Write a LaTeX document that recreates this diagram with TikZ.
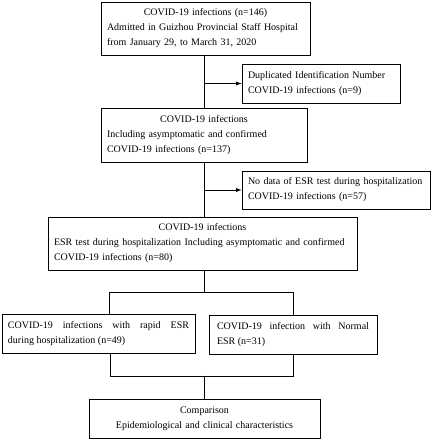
\documentclass[tikz,border=0pt]{standalone}
\usepackage{fontspec}
\setmainfont{Liberation Serif}
\usepackage{tikz}
\usetikzlibrary{arrows,positioning}

\tikzset{
    box/.style={draw, line width=.9pt, inner xsep=6pt, inner ysep=2pt, align=left,
        font=\fontsize{10}{15}\selectfont},
    link/.style={line width=.9pt},
    arr/.style={line width=.9pt, -latex}
}
\newcommand{\headline}[1]{\hspace*{\fill}#1\hspace*{\fill}\null\\}

\begin{document}
\begin{tikzpicture}[x=1pt, y=1pt]
            \useasboundingbox (0,0) rectangle (433,440);

            \node[box, text width=197pt, minimum height=53pt] (all) at (205.5,411.5)
                {\headline{COVID-19 infections (n=146)}
                 Admitted in Guizhou Provincial Staff Hospital\\
                 from January 29, to March 31, 2020};
            \node[box, text width=146pt, minimum height=39pt] (dup) at (321,356.5)
                {Duplicated Identification Number\\
                 COVID-19 infections (n=9)};
            \node[box, text width=194pt, minimum height=54pt] (incl) at (204,305)
                {\headline{COVID-19 infections}
                 Including asymptomatic and confirmed\\
                 COVID-19 infections (n=137)};
            \node[box, text width=176pt, minimum height=38pt] (nodata) at (336,250)
                {No data of ESR test during hospitalization\\
                 COVID-19 infections (n=57)};
            \node[box, text width=297pt, minimum height=53pt] (esr) at (202.5,196.5)
                {\headline{COVID-19 infections}
                 ESR test during hospitalization Including asymptomatic and confirmed\\
                 COVID-19 infections (n=80)};
            \node[box, align=justify, text width=181pt, minimum height=39pt] (rapid) at (98.5,106.5)
                {COVID-19 infections with rapid ESR\linebreak
                 during hospitalization (n=49)};
            \node[box, align=justify, inner xsep=8pt, text width=152pt, minimum height=39pt] (normal) at (293,105.5)
                {COVID-19 infection with Normal\linebreak
                 ESR (n=31)};
            \node[box, align=center, text width=219pt, minimum height=39pt] (comp) at (204.5,21.5)
                {Comparison\\
                 Epidemiological and clinical characteristics};

            \coordinate (splitL) at (109,148);
            \coordinate (splitR) at (293,148);
            \coordinate (joinL) at (110,64);
            \coordinate (joinR) at (293,64);

            \draw[link] (all.south -| incl.north) -- (incl.north);
            \draw[arr] (incl.north |- dup.west) -- (dup.west);
            \draw[link] (incl.south) -- (incl.south |- esr.north);
            \draw[arr] (incl.south |- nodata.west) -- (nodata.west);

            \draw[link] (esr.south -| comp.north) -- (comp.north |- splitL);
            \draw[link] (rapid.north -| splitL) -- (splitL) -- (splitR) -- (normal.north);

            \draw[link] (rapid.south -| joinL) -- (joinL) -- (joinR) -- (normal.south);
            \draw[link] (comp.north |- joinL) -- (comp.north);
        \end{tikzpicture}
\end{document}
